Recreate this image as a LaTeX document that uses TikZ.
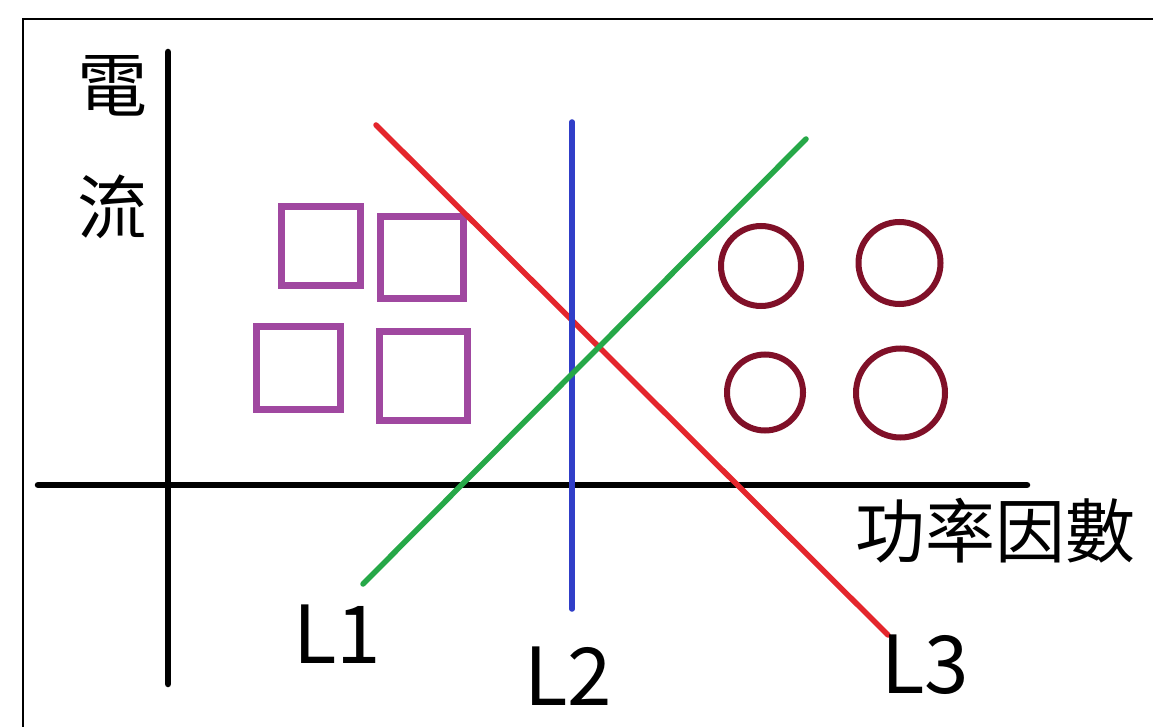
\documentclass[tikz,border=0pt]{standalone}
\usepackage{fontspec}
\newfontfamily\cjk{Noto Sans CJK TC}
\definecolor{axisblack}{RGB}{0,0,0}
\definecolor{lred}{RGB}{228,38,44}
\definecolor{lblue}{RGB}{48,62,200}
\definecolor{lgreen}{RGB}{38,168,72}
\definecolor{sqpurple}{RGB}{160,72,160}
\definecolor{cdred}{RGB}{128,16,40}
\tikzset{
  axisline/.style={line width=6.5pt, line cap=round, draw=axisblack},
  dline/.style={line width=5.5pt, line cap=round},
  sq/.style={draw=sqpurple, line width=7pt, rectangle, inner sep=0pt},
  circ/.style={draw=cdred, line width=6pt, circle, inner sep=0pt},
  cjklabel/.style={font=\cjk\fontsize{70}{80}\selectfont, anchor=base, inner sep=0pt},
  llabel/.style={font=\cjk\fontsize{80}{96}\selectfont, anchor=base, inner sep=0pt},
}
\begin{document}
\begin{tikzpicture}[x=1pt,y=-1pt]
\useasboundingbox (0,0) rectangle (1153,727);
\fill[white] (0,0) rectangle (1153,727);
% frame (only top and left are visible)
\draw[line width=2pt] (23,760) -- (23,19) -- (1200,19);
% axes
\coordinate (yb) at (168,684);
\coordinate (yt) at (168,52);
\coordinate (xl) at (38,485);
\coordinate (xr) at (1027,485);
\draw[axisline] (yb) -- (yt);
\draw[axisline] (xl) -- (xr);
% axis labels
\node[cjklabel] (dian) at (112,112) {電};
\node[cjklabel] (liu) at (112,234) {流};
\node[cjklabel] (pf) at (995,557) {功率因數};
% squares
\node[sq, minimum width=79pt, minimum height=79pt] (s1) at (321,246) {};
\node[sq, minimum width=83pt, minimum height=82pt] (s2) at (422,257.5) {};
\node[sq, minimum width=84pt, minimum height=83pt] (s3) at (298.5,368) {};
\node[sq, minimum width=88pt, minimum height=89pt] (s4) at (423.5,376) {};
% circles
\node[circ, minimum size=80pt] (c1) at (761,266) {};
\node[circ, minimum size=82pt] (c2) at (899.5,263) {};
\node[circ, minimum size=76pt] (c3) at (765,392.5) {};
\node[circ, minimum size=89pt] (c4) at (900.5,393) {};
% lines
\coordinate (r1) at (376,125);
\coordinate (r2) at (888,635);
\coordinate (b1) at (572,122);
\coordinate (b2) at (572,609);
\coordinate (g1) at (363,584);
\coordinate (g2) at (806,139);
\draw[dline, draw=lred] (r1) -- (r2);
\draw[dline, draw=lblue] (b1) -- (b2);
\draw[dline, draw=lgreen] (g1) -- (g2);
% line labels
\node[llabel] (L1) at (337,663) {L1};
\node[llabel] (L2) at (568,705) {L2};
\node[llabel] (L3) at (925,693) {L3};
\end{tikzpicture}
\end{document}
